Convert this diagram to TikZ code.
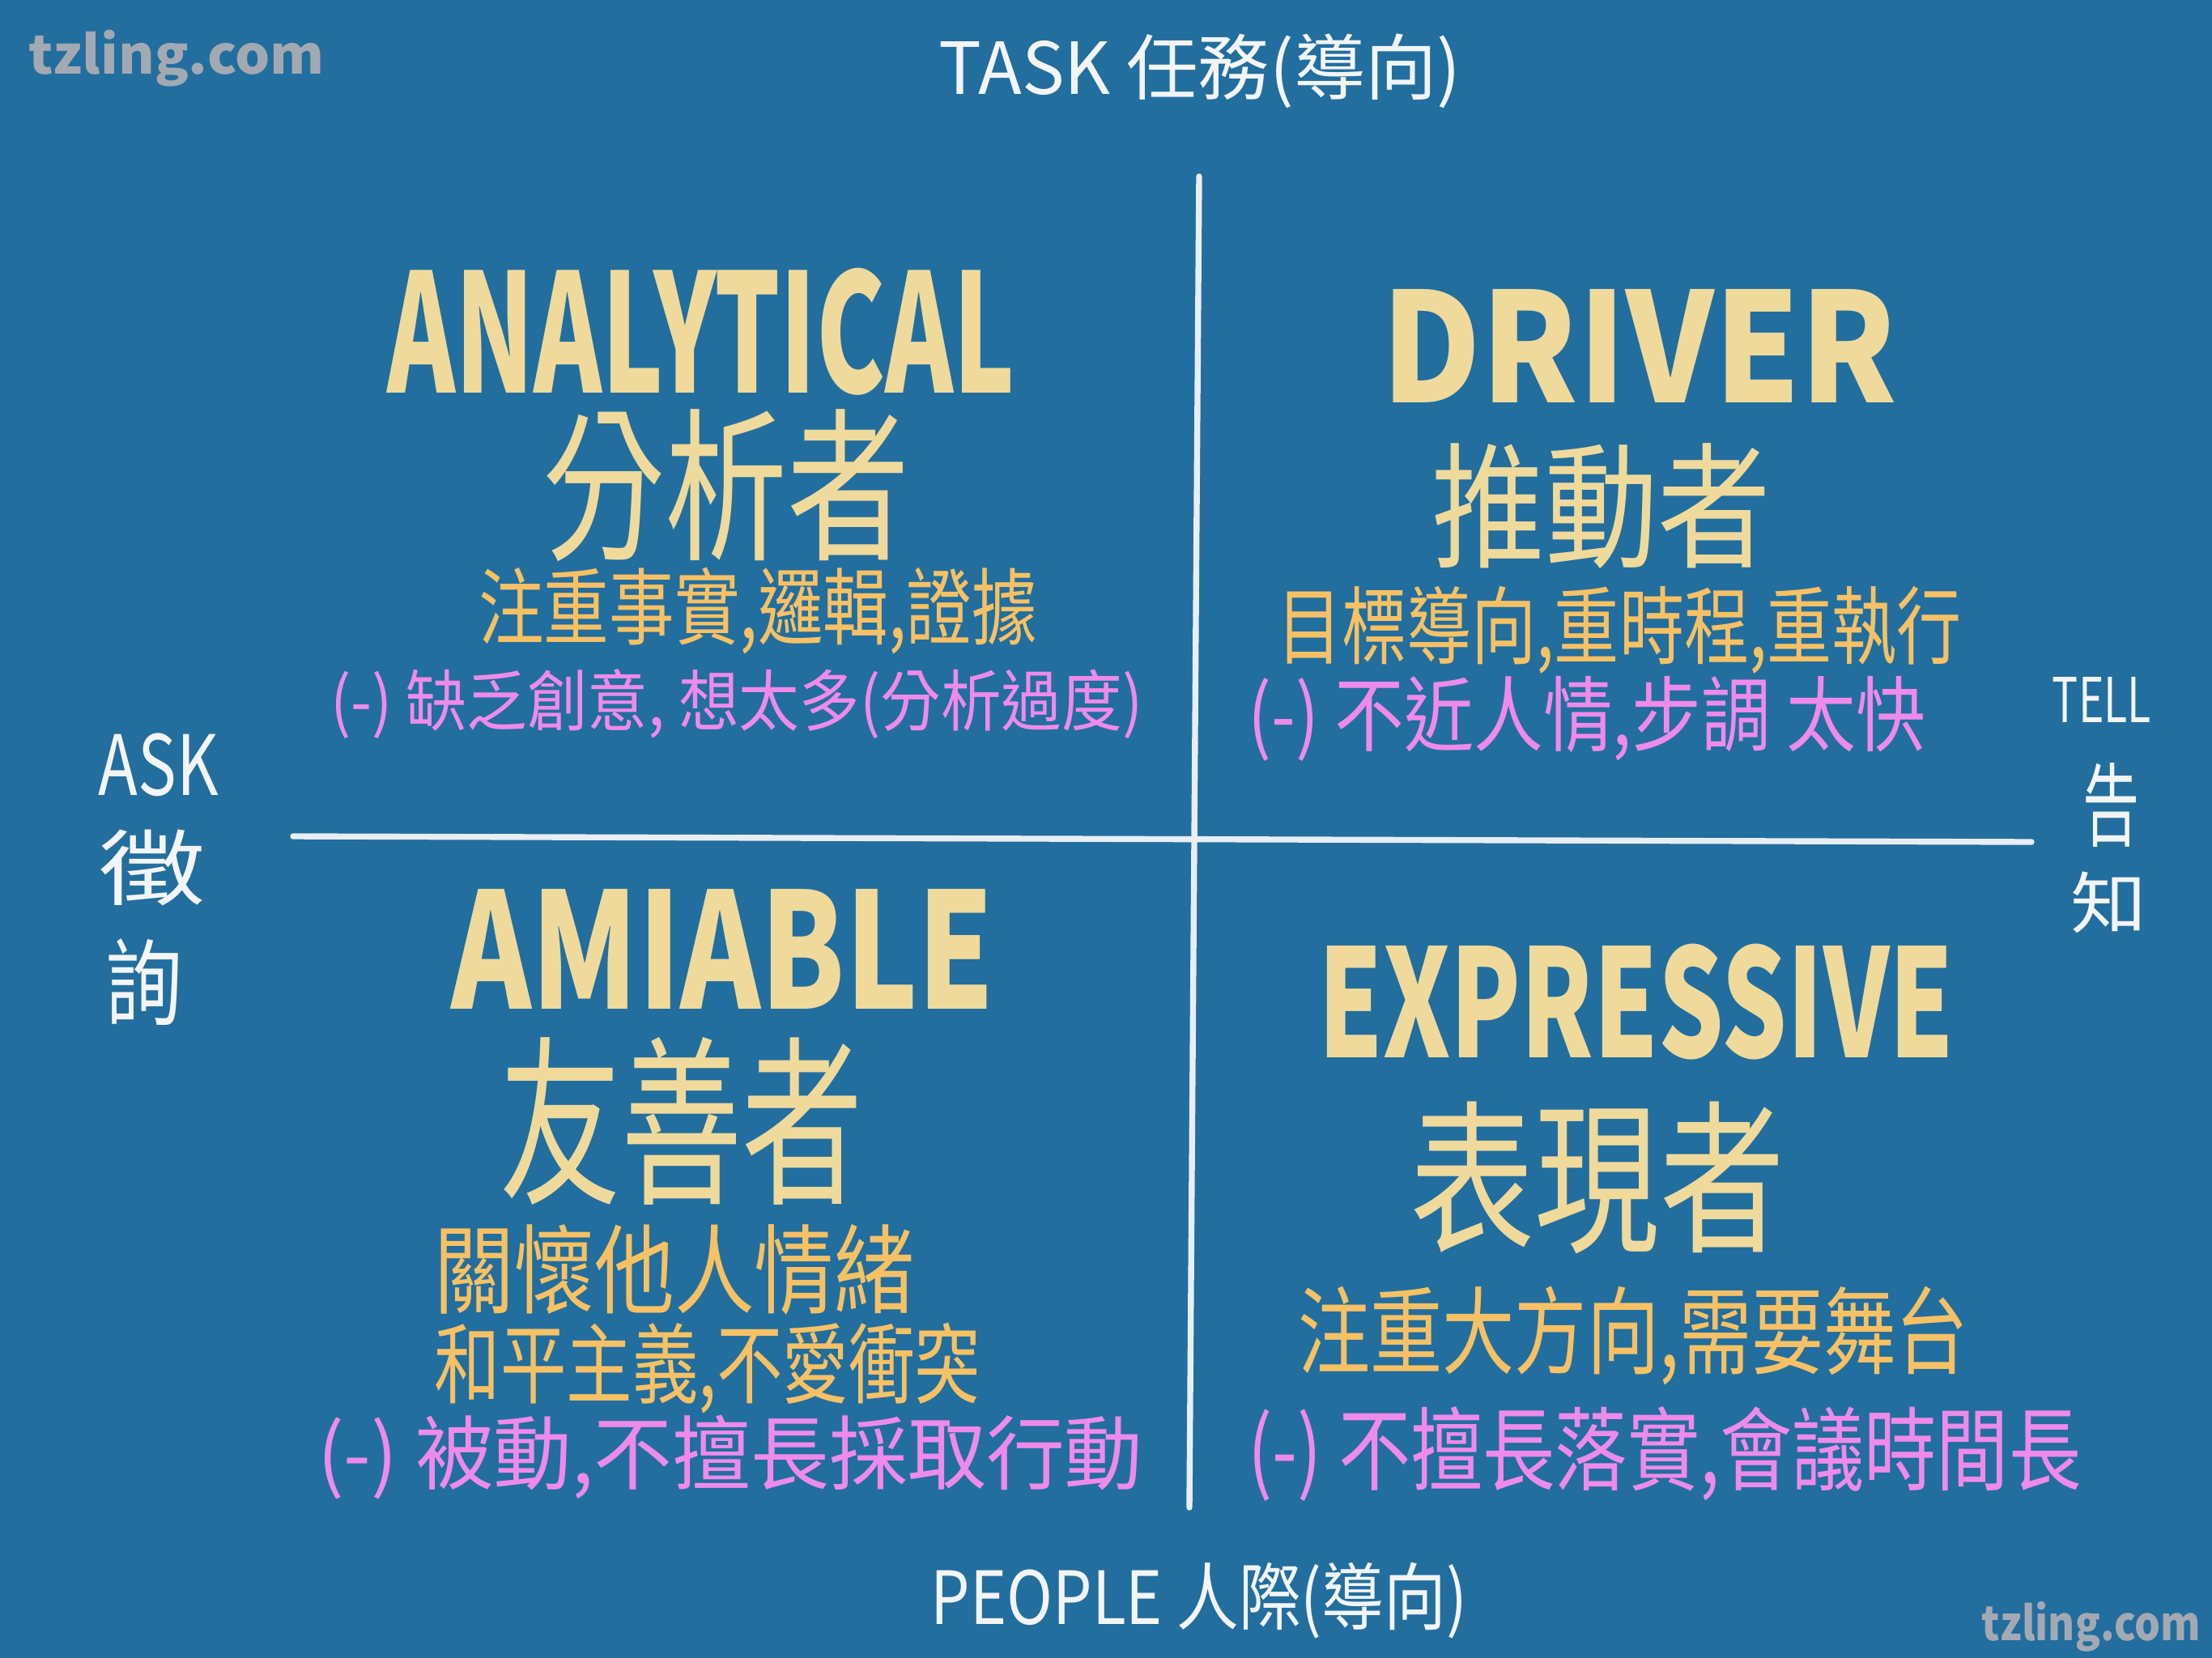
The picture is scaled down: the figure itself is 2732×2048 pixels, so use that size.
\documentclass[tikz,border=0pt]{standalone}
\usepackage{fontspec}
\usepackage{graphicx}
\setmainfont{Noto Sans CJK TC}
\definecolor{bgcol}{RGB}{34,110,158}
\definecolor{titlecol}{RGB}{239,218,156}
\definecolor{orangecol}{RGB}{246,193,101}
\definecolor{pinkcol}{RGB}{238,139,234}
\definecolor{whitecol}{RGB}{242,244,246}
\definecolor{graycol}{RGB}{163,169,179}
\definecolor{linecol}{RGB}{232,238,244}
\newcommand\fitbox[3]{\resizebox*{#1}{#2}{#3}}
\tikzset{
  lbl/.style={inner sep=0pt, outer sep=0pt, anchor=center},
  titletxt/.style={lbl, text=titlecol, font=\bfseries},
  bigtxt/.style={lbl, text=titlecol},
  orangetxt/.style={lbl, text=orangecol},
  pinktxt/.style={lbl, text=pinkcol},
  whitetxt/.style={lbl, text=whitecol},
  graytxt/.style={lbl, text=graycol, font=\bfseries},
  axis/.style={draw=linecol, line width=2.1pt, line cap=round}
}
\begin{document}
\begin{tikzpicture}[x=0.01cm,y=-0.01cm]
\fill[bgcol] (0,0) rectangle (2732,2048);
\useasboundingbox (0,0) rectangle (2732,2048);
% axes
\coordinate (vtop) at (1481,218);
\coordinate (vbot) at (1469,1862);
\coordinate (hleft) at (362,1033);
\coordinate (hright) at (2509,1040);
\draw[axis] (vtop) -- (vbot);
\draw[axis] (hleft) -- (hright);
% watermarks
\node[graytxt] (wm1) at (218,72) {\fitbox{3.65cm}{0.70cm}{tzling.com}};
\node[graytxt] (wm2) at (2583,2009) {\fitbox{2.70cm}{0.62cm}{tzling.com}};
% axis labels
\node[whitetxt] (task) at (1482,88) {\fitbox{6.45cm}{0.92cm}{TASK 任務(導向)}};
\node[whitetxt] (people) at (1481,1977) {\fitbox{6.62cm}{0.94cm}{PEOPLE 人際(導向)}};
\node[whitetxt] (askA) at (196,945) {\fitbox{1.48cm}{0.78cm}{ASK}};
\node[whitetxt] (askB) at (188,1072) {\fitbox{1.31cm}{0.94cm}{徵}};
\node[whitetxt] (askC) at (178,1213) {\fitbox{0.95cm}{1.07cm}{詢}};
\node[whitetxt] (tellA) at (2596,864) {\fitbox{1.22cm}{0.56cm}{TELL}};
\node[whitetxt] (tellB) at (2607,994) {\fitbox{0.70cm}{1.04cm}{告}};
\node[whitetxt] (tellC) at (2605,1115) {\fitbox{0.94cm}{0.76cm}{知}};
% analytical
\node[titletxt] (anaT) at (866,410) {\fitbox{7.75cm}{1.57cm}{ANALYTICAL}};
\node[bigtxt] (anaC) at (897,600) {\fitbox{4.53cm}{1.88cm}{分析者}};
\node[orangetxt] (anaO) at (936,755) {\fitbox{6.89cm}{1.07cm}{注重事實,邏輯,證據}};
\node[pinktxt] (anaP) at (910,870) {\fitbox{10.02cm}{0.86cm}{(-) 缺乏創意, 想太多(分析過度)}};
% driver
\node[titletxt] (drvT) at (2025,427) {\fitbox{6.36cm}{1.40cm}{DRIVER}};
\node[bigtxt] (drvC) at (1978,625) {\fitbox{4.19cm}{1.55cm}{推動者}};
\node[orangetxt] (drvO) at (2000,778) {\fitbox{8.45cm}{1.08cm}{目標導向,重時程,重執行}};
\node[pinktxt] (drvP) at (1960,888) {\fitbox{8.36cm}{1.05cm}{(-) 不近人情,步調 太快}};
% amiable
\node[titletxt] (amiT) at (893,1172) {\fitbox{6.70cm}{1.48cm}{AMIABLE}};
\node[bigtxt] (amiC) at (842,1385) {\fitbox{4.48cm}{2.07cm}{友善者}};
\node[orangetxt] (amiO1) at (833,1568) {\fitbox{5.92cm}{1.12cm}{關懷他人情緒}};
\node[orangetxt] (amiO2) at (874,1690) {\fitbox{6.74cm}{1.12cm}{和平主義,不愛衝突}};
\node[pinktxt] (amiP) at (902,1800) {\fitbox{10.19cm}{1.04cm}{(-) 被動,不擅長採取行動}};
% expressive
\node[titletxt] (expT) at (2021,1238) {\fitbox{7.84cm}{1.43cm}{EXPRESSIVE}};
\node[bigtxt] (expC) at (1973,1455) {\fitbox{4.62cm}{1.88cm}{表現者}};
\node[orangetxt] (expO) at (2017,1650) {\fitbox{8.27cm}{1.22cm}{注重大方向,需要舞台}};
\node[pinktxt] (expP) at (2056,1796) {\fitbox{10.28cm}{1.17cm}{(-) 不擅長落實,會議時間長}};
\end{tikzpicture}
\end{document}
